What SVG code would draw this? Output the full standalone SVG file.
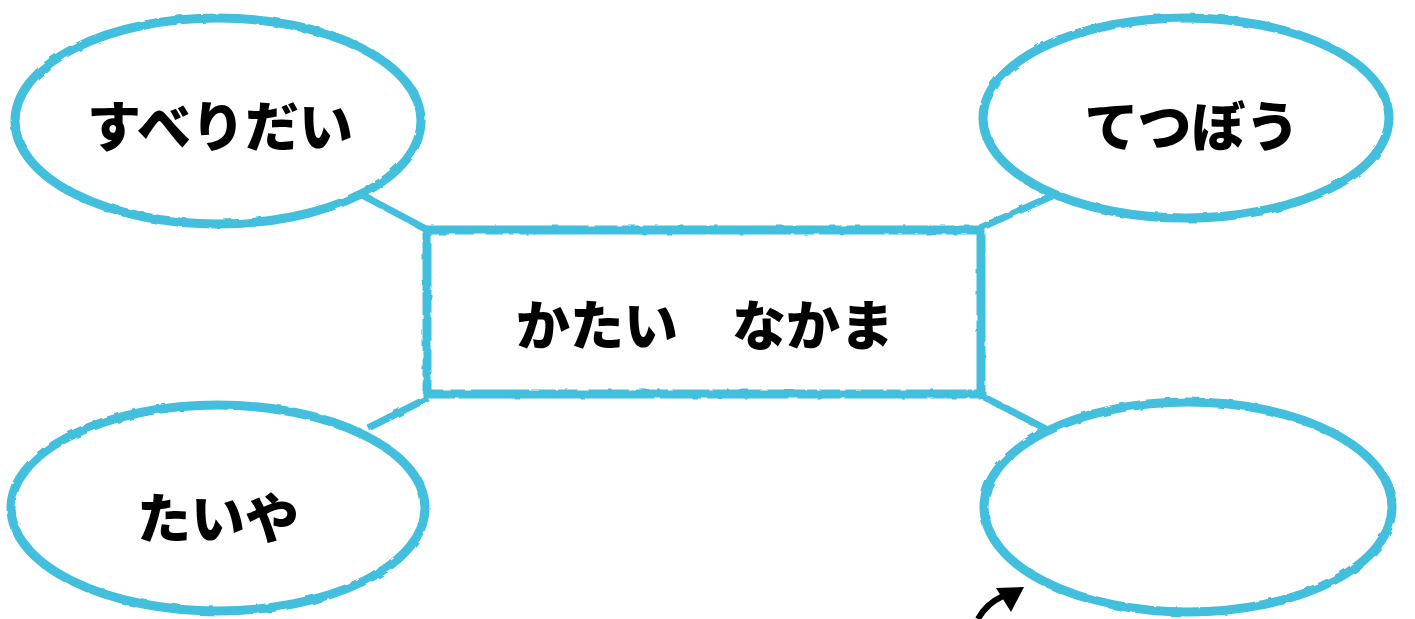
<svg xmlns="http://www.w3.org/2000/svg" width="1415" height="619" viewBox="0 0 1415 619">
<style>
.sh{fill:#fff;stroke:#42bfdd;stroke-width:9;filter:url(#rough)}
.ln{stroke:#42bfdd;stroke-width:7;fill:none;filter:url(#rough)}
.t{font-family:"Noto Sans CJK JP","Noto Sans",sans-serif;font-weight:900;font-size:54px;fill:#000;text-anchor:middle;dominant-baseline:central}
</style>
<defs>
<filter id="rough" x="-5%" y="-5%" width="110%" height="110%">
<feTurbulence type="fractalNoise" baseFrequency="0.08" numOctaves="2" seed="3"/>
<feDisplacementMap in="SourceGraphic" scale="3"/>
</filter>
</defs>
<rect width="1415" height="619" fill="#fff"/>
<g id="connectors">
<line class="ln" x1="362" y1="195" x2="428" y2="230"/>
<line class="ln" x1="368" y1="428" x2="428" y2="398"/>
<line class="ln" x1="980" y1="228" x2="1052" y2="196"/>
<line class="ln" x1="984" y1="397" x2="1048" y2="430"/>
<path d="M978,619 Q986,604 1003,596" fill="none" stroke="#000" stroke-width="6"/>
<polygon points="996,588 1024,587 1011,612" fill="#000"/>
</g>
<g id="node-suberidai">
<ellipse class="sh" cx="218" cy="121" rx="203" ry="103"/>
<text class="t" x="220" y="123">すべりだい</text>
</g>
<g id="node-tetsubou">
<ellipse class="sh" cx="1186" cy="118" rx="203" ry="100"/>
<text class="t" x="1192" y="123">てつぼう</text>
</g>
<g id="node-taiya">
<ellipse class="sh" cx="218" cy="508" rx="207" ry="103"/>
<text class="t" x="218" y="515">たいや</text>
</g>
<g id="node-empty">
<ellipse class="sh" cx="1188" cy="507" rx="204" ry="105"/>
</g>
<g id="node-center">
<rect class="sh" x="427" y="230" width="554" height="164"/>
<text class="t" x="705" y="322">かたい　なかま</text>
</g>
</svg>
